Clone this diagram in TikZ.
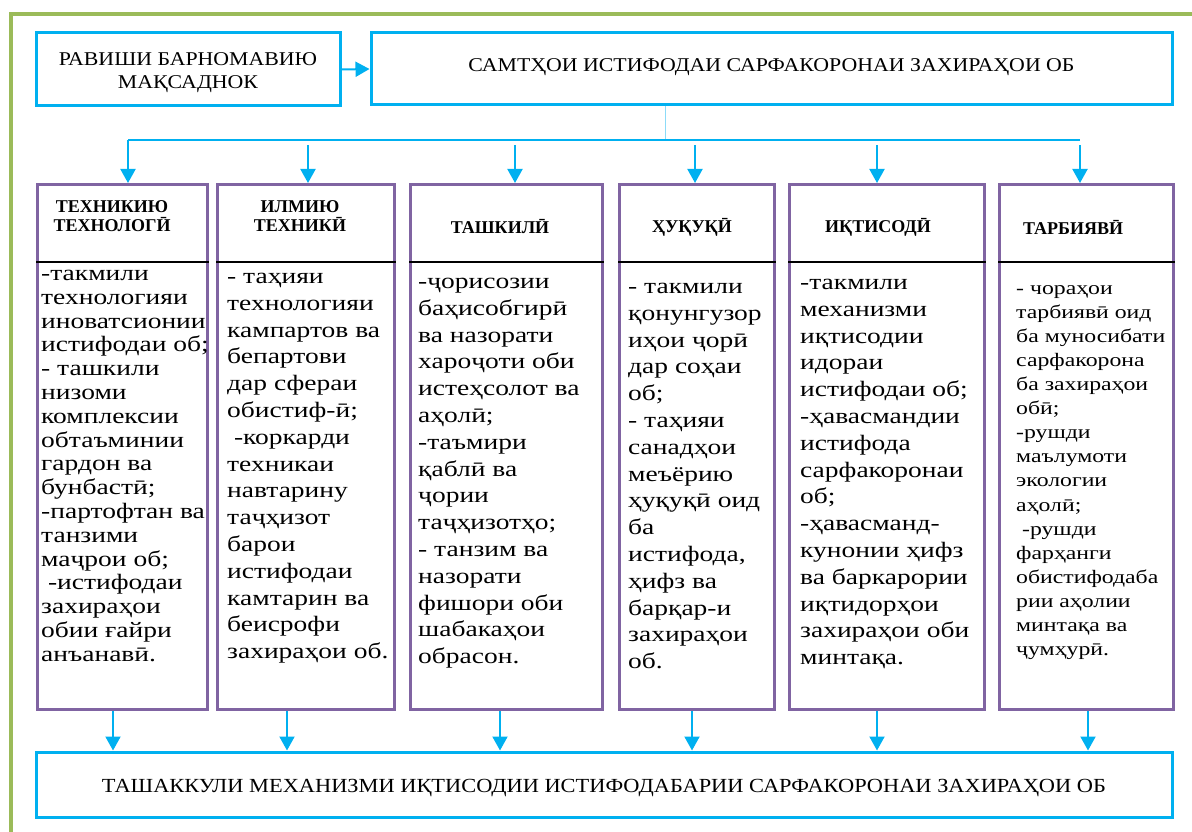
\documentclass[tikz,border=0pt]{standalone}
\usepackage{fontspec}
\IfFontExistsTF{LiberationSerif-Regular.ttf}
  {\setmainfont{LiberationSerif}[Extension=.ttf, UprightFont=*-Regular, BoldFont=*-Bold]
   \newfontfamily\bodyfont{LiberationSerif}[Extension=.ttf, UprightFont=*-Regular, FakeStretch=1.25]
   \newfontfamily\boxfont{LiberationSerif}[Extension=.ttf, UprightFont=*-Regular, FakeStretch=1.12]}
  {\setmainfont{DejaVu Serif}
   \newfontfamily\bodyfont{DejaVu Serif}
   \newfontfamily\boxfont{DejaVu Serif}}
\usetikzlibrary{positioning, arrows.meta}
\definecolor{framegreen}{RGB}{155,187,89}
\definecolor{boxblue}{RGB}{0,176,240}
\definecolor{colpurple}{RGB}{128,100,162}

\begin{document}
\begin{tikzpicture}[x=1pt, y=-1pt,
  topbox/.style={draw=boxblue, line width=3pt, inner sep=0pt, align=center, font=\boxfont\fontsize{19.5}{23}\selectfont},
  col/.style={draw=colpurple, line width=3pt, anchor=north west, minimum height=525pt, inner sep=0pt},
  head/.style={font=\bfseries\fontsize{18}{19}\selectfont, align=center, inner sep=0pt},
  body/.style={anchor=north west, align=left, inner sep=0pt, font=\bodyfont\fontsize{22}{#1}\selectfont},
  body/.default=26.8,
  bus/.style={draw=boxblue, line width=2pt},
  arr/.style={draw=boxblue, line width=2pt, -{Triangle[width=15pt,length=14pt]}}]
  \useasboundingbox (0,0) rectangle (1192,832);
  \draw[framegreen, line width=4pt] (11,840) -- (11,14) -- (1200,14);

  % top row
  \node[topbox, minimum width=304pt, minimum height=73pt] (plan) at (188,69.5)
    {\raisebox{-3pt}[\height][\depth]{\begin{tabular}{@{}c@{}}РАВИШИ БАРНОМАВИЮ\\МАҚСАДНОК\end{tabular}}};
  \node[topbox, minimum width=801pt, minimum height=72pt] (dirs) at (771.5,69)
    {\raisebox{2pt}[\height][\depth]{САМТҲОИ ИСТИФОДАИ САРФАКОРОНАИ ЗАХИРАҲОИ ОБ}};
  \draw[arr] (plan.east) -- (dirs.west);

  % columns
  \node[col, minimum width=170pt] (c1) at (36,183) {};
  \node[col, minimum width=177pt] (c2) at (216,183) {};
  \node[col, minimum width=192pt] (c3) at (409,183) {};
  \node[col, minimum width=155pt] (c4) at (618,183) {};
  \node[col, minimum width=195pt] (c5) at (788,183) {};
  \node[col, minimum width=174pt] (c6) at (998,183) {};
  \foreach \i in {1,...,6}
    \draw[line width=1.3pt] (c\i.west |- 0,262) -- (c\i.east |- 0,262);

  \node[head] (h1) at (112,216) {ТЕХНИКИЮ\\ТЕХНОЛОГӢ};
  \node[head] (h2) at (300,216) {ИЛМИЮ\\ТЕХНИКӢ};
  \node[head] (h3) at (500,227) {ТАШКИЛӢ};
  \node[head] (h4) at (692,227) {ҲУҚУҚӢ};
  \node[head] (h5) at (878,227) {ИҚТИСОДӢ};
  \node[head] (h6) at (1073,227) {ТАРБИЯВӢ};

  \node[body=23.8] (t1) at (41,270) {-такмили\\технологияи\\иноватсионии\\истифодаи об;\\- ташкили\\низоми\\комплексии\\обтаъминии\\гардон ва\\бунбастӣ;\\-партофтан ва\\танзими\\маҷрои об;\\\ -истифодаи\\захираҳои\\обии ғайри\\анъанавӣ.};
  \node[body] (t2) at (227,273) {- таҳияи\\технологияи\\кампартов ва\\бепартови\\дар сфераи\\обистиф-ӣ;\\\ -коркарди\\техникаи\\навтарину\\таҷҳизот\\барои\\истифодаи\\камтарин ва\\беисрофи\\захираҳои об.};
  \node[body] (t3) at (418,278) {-ҷорисозии\\баҳисобгирӣ\\ва назорати\\хароҷоти оби\\истеҳсолот ва\\аҳолӣ;\\-таъмири\\қаблӣ ва\\ҷории\\таҷҳизотҳо;\\- танзим ва\\назорати\\фишори оби\\шабакаҳои\\обрасон.};
  \node[body] (t4) at (628,283) {- такмили\\қонунгузор\\иҳои ҷорӣ\\дар соҳаи\\об;\\- таҳияи\\санадҳои\\меъёрию\\ҳуқуқӣ оид\\ба\\истифода,\\ҳифз ва\\барқар-и\\захираҳои\\об.};
  \node[body] (t5) at (800,279) {-такмили\\механизми\\иқтисодии\\идораи\\истифодаи об;\\-ҳавасмандии\\истифода\\сарфакоронаи\\об;\\-ҳавасманд-\\кунонии ҳифз\\ва баркарории\\иқтидорҳои\\захираҳои оби\\минтақа.};
  \node[body=24.1, font=\bodyfont\fontsize{19}{24.1}\selectfont] (t6) at (1016,285) {- чораҳои\\тарбиявӣ оид\\ба муносибати\\сарфакорона\\ба захираҳои\\обӣ;\\-рушди\\маълумоти\\экологии\\аҳолӣ;\\\ -рушди\\фарҳанги\\обистифодаба\\рии аҳолии\\минтақа ва\\ҷумҳурӣ.};

  % bus to the columns
  \coordinate (hub) at (665,140);
  \coordinate (b1) at (128,140);
  \coordinate (b6) at (1080,140);
  \draw[draw=boxblue!45, line width=1pt] (dirs.south -| hub) -- (hub);
  \draw[bus] (b1) -- (b6);
  \draw[arr] (b1) -- (b1 |- c1.north);
  \foreach \i/\x in {2/308, 3/515, 4/695, 5/877, 6/1080} {
    \coordinate (a\i) at (\x,145);
    \draw[arr] (a\i) -- (a\i |- c\i.north);
  }

  % bottom box
  \node[topbox, minimum width=1136pt, minimum height=65pt, font=\boxfont\fontsize{20}{23}\selectfont] (fin) at (604,784.5)
    {\raisebox{-3pt}[\height][\depth]{ТАШАККУЛИ МЕХАНИЗМИ ИҚТИСОДИИ ИСТИФОДАБАРИИ САРФАКОРОНАИ ЗАХИРАҲОИ ОБ}};
  \foreach \i/\x in {1/113, 2/287, 3/500, 4/692, 5/877, 6/1088} {
    \coordinate (d\i) at (\x,0);
    \draw[arr] (d\i |- c\i.south) -- (d\i |- fin.north);
  }
\end{tikzpicture}
\end{document}
